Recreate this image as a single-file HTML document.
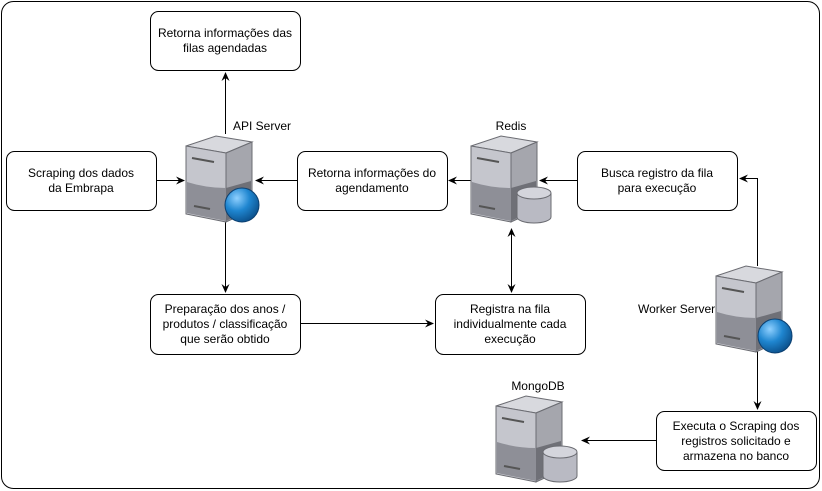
<!DOCTYPE html>
<html><head><style>body{margin:0;background:#fff}svg{display:block}text{font-family:"Liberation Sans",sans-serif;font-size:12px;fill:#000}</style></head><body>
<svg width="822" height="491" viewBox="0 0 822 491" xmlns="http://www.w3.org/2000/svg">
<defs>
<marker id="a" markerWidth="10" markerHeight="10" refX="8" refY="5" orient="auto-start-reverse" markerUnits="userSpaceOnUse"><path d="M0,1 L9,5 L0,9 L3,5 Z" fill="#000"/></marker>
<radialGradient id="gl" cx="0.35" cy="0.3" r="0.75"><stop offset="0" stop-color="#8fd0ff"/><stop offset="0.5" stop-color="#1f86d0"/><stop offset="1" stop-color="#0b4f8a"/></radialGradient>
<g id="srv">
<polygon points="0,10 30,0 66,6 40,17" fill="#d8d9de" stroke="#6b6c72" stroke-width="1"/>
<polygon points="0,10 40,17 40,86 0,78" fill="#c5c6cd" stroke="#6b6c72"/>
<polygon points="40,17 66,6 66,74 40,86" fill="#a5a6ad" stroke="#6b6c72"/>
<path d="M1,46 Q20,52 40,52 L40,85 L1,77Z" fill="#8e8f97"/>
<path d="M40,52 L65,45 L65,73 L40,85Z" fill="#6f7077"/>
<line x1="6" y1="22" x2="28" y2="26" stroke="#555" stroke-width="2"/>
<line x1="8" y1="70" x2="24" y2="73" stroke="#555" stroke-width="2"/>
</g>
<g id="cyl">
<path d="M-17,-14 L-17,10 A17,6 0 0 0 17,10 L17,-14" fill="#b9bac3" stroke="#6b6c72"/>
<ellipse cx="0" cy="-14" rx="17" ry="6" fill="#d4d5dc" stroke="#6b6c72"/>
</g>
</defs>
<rect x="1.5" y="1.5" width="818" height="487" rx="12" fill="#fff" stroke="#000"/>
<g fill="#fff" stroke="#000">
<rect x="150.5" y="11.5" width="150" height="59" rx="8"/>
<rect x="6.5" y="151.5" width="150" height="59" rx="8"/>
<rect x="297.5" y="151.5" width="150" height="59" rx="8"/>
<rect x="577.5" y="151.5" width="160" height="59" rx="8"/>
<rect x="150.5" y="294.5" width="150" height="60" rx="8"/>
<rect x="435.5" y="294.5" width="150" height="60" rx="8"/>
<rect x="656.5" y="411.5" width="160" height="59" rx="8"/>
</g>
<g font-size="12" text-anchor="middle">
<text x="225" y="37">Retorna informações das</text><text x="225" y="52">filas agendadas</text>
<text x="81" y="177">Scraping dos dados</text><text x="81" y="192">da Embrapa</text>
<text x="372" y="177">Retorna informações do</text><text x="372" y="192">agendamento</text>
<text x="657" y="177">Busca registro da fila</text><text x="657" y="192">para execução</text>
<text x="225" y="313">Preparação dos anos /</text><text x="225" y="328">produtos / classificação</text><text x="225" y="343">que serão obtido</text>
<text x="510" y="313">Registra na fila</text><text x="510" y="328">individualmente cada</text><text x="510" y="343">execução</text>
<text x="736" y="430">Executa o Scraping dos</text><text x="736" y="445">registros solicitado e</text><text x="736" y="460">armazena no banco</text>
<text x="511" y="130">Redis</text>
<text x="538" y="390">MongoDB</text>
</g>
<text x="233" y="130">API Server</text>
<text x="638" y="313">Worker Server</text>
<g stroke="#000" fill="none">
<line x1="225.5" y1="134" x2="225.5" y2="73" marker-end="url(#a)"/>
<line x1="157" y1="180.5" x2="184" y2="180.5" marker-end="url(#a)"/>
<line x1="297" y1="180.5" x2="256" y2="180.5" marker-end="url(#a)"/>
<line x1="471" y1="180.5" x2="449" y2="180.5" marker-end="url(#a)"/>
<line x1="577" y1="180.5" x2="540" y2="180.5" marker-end="url(#a)"/>
<polyline points="757.5,266 757.5,178.5 740,178.5" marker-end="url(#a)"/>
<line x1="225.5" y1="222" x2="225.5" y2="292" marker-end="url(#a)"/>
<line x1="301" y1="323.5" x2="433" y2="323.5" marker-end="url(#a)"/>
<line x1="511.5" y1="229" x2="511.5" y2="292" marker-start="url(#a)" marker-end="url(#a)"/>
<line x1="757.5" y1="351" x2="757.5" y2="409" marker-end="url(#a)"/>
<line x1="656" y1="440.5" x2="582" y2="440.5" marker-end="url(#a)"/>
</g>
<use href="#srv" x="186" y="136"/>
<circle cx="242" cy="205" r="17" fill="url(#gl)" stroke="#0b3f70"/>
<use href="#srv" x="471" y="136"/>
<use href="#cyl" x="534" y="207"/>
<use href="#srv" x="716" y="266"/>
<circle cx="775" cy="336" r="17" fill="url(#gl)" stroke="#0b3f70"/>
<use href="#srv" x="496" y="396"/>
<use href="#cyl" x="560" y="466"/>
</svg>
</body></html>
